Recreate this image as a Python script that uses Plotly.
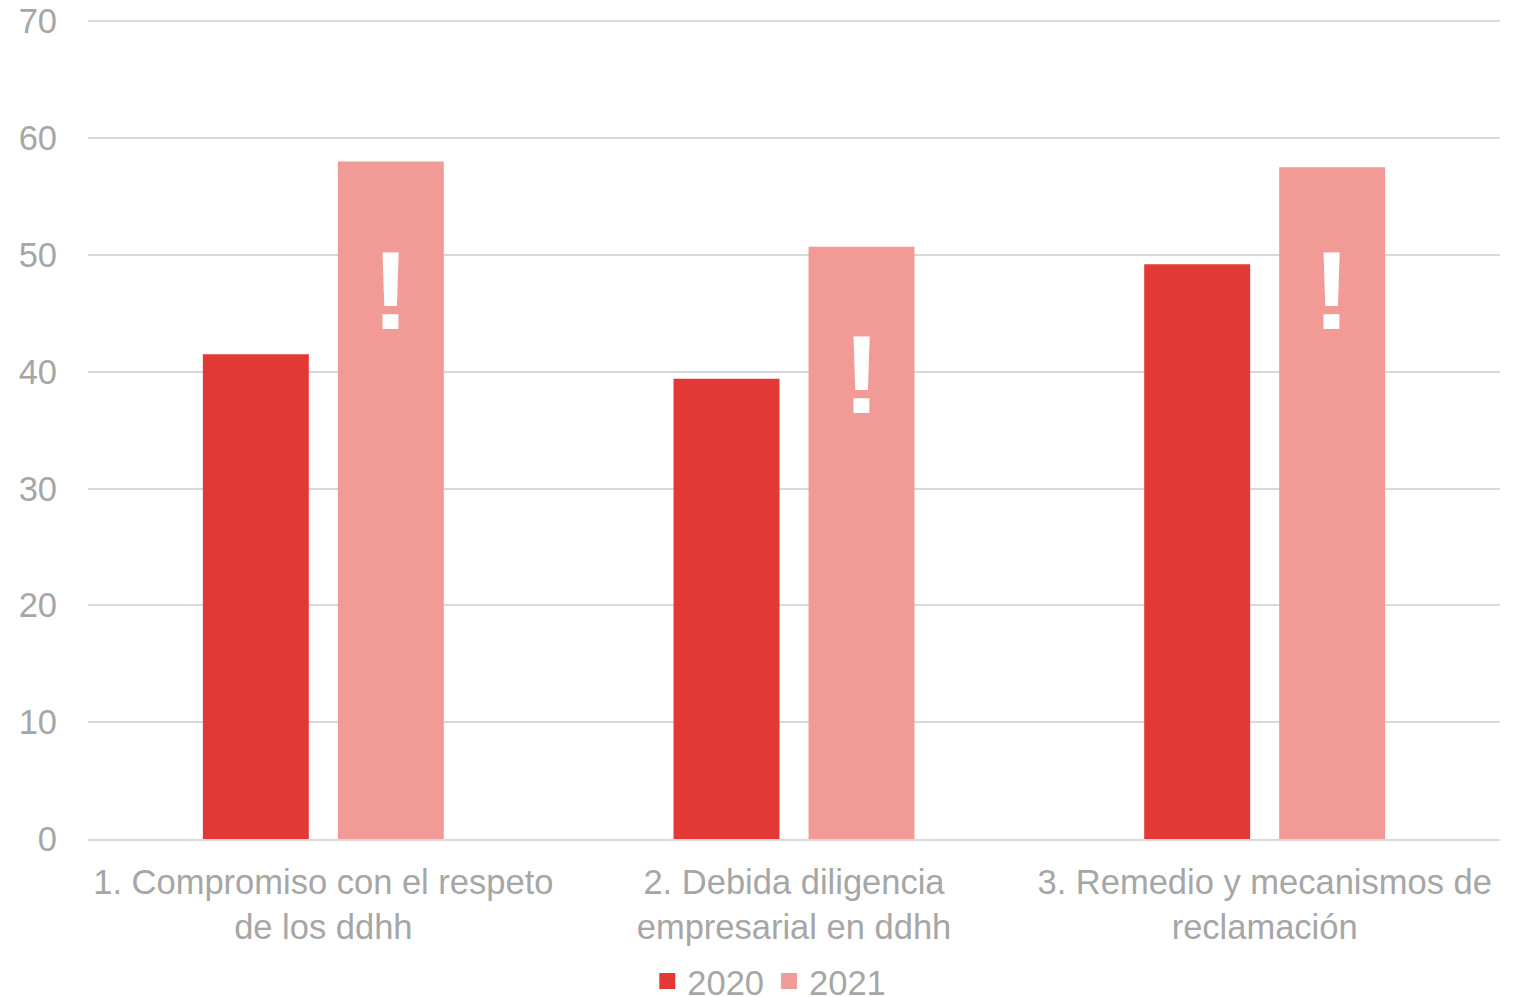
import plotly.graph_objects as go

categories = ["1. Compromiso con el respeto<br>de los ddhh",
              "2. Debida diligencia<br>empresarial en ddhh",
              "3. Remedio y mecanismos de<br>reclamación"]
values_2020 = [41.5, 39.4, 49.2]
values_2021 = [58.0, 50.7, 57.5]
series_names = ["2020", "2021"]
y_ticks = [0, 10, 20, 30, 40, 50, 60, 70]
# top of the white "!" mark inside each 2021 bar (value units)
mark_top = [50.2, 43.0, 50.2]

c2020 = "#e33936"
c2021 = "#f19a96"
grey = "#a6a6a6"
font_family = "Liberation Sans, Arial, sans-serif"
fs = 34.5

fig = go.Figure()
fig.add_trace(go.Bar(x=categories, y=values_2020, name=series_names[0], showlegend=False,
                     marker=dict(color=c2020, line=dict(width=0))))
fig.add_trace(go.Bar(x=categories, y=values_2021, name=series_names[1], showlegend=False,
                     marker=dict(color=c2021, line=dict(width=0))))
# legend entries (square swatches)
for name, col in zip(series_names, [c2020, c2021]):
    fig.add_trace(go.Scatter(x=[None], y=[None], mode="markers", name=name,
                             marker=dict(symbol="square", size=16, color=col)))

for cat, m in zip(categories, mark_top):
    fig.add_annotation(x=cat, y=m, xref="x", yref="y", text="<b>!</b>",
                       showarrow=False, xshift=67, yanchor="top", yshift=27,
                       font=dict(family="Liberation Sans Narrow, Arial Narrow, sans-serif",
                                 size=112, color="white"))

fig.update_layout(
    width=1513, height=989,
    margin=dict(l=80, r=21, t=11, b=158, autoexpand=False),
    paper_bgcolor="white", plot_bgcolor="white",
    barmode="group", bargap=0.4264, bargroupgap=0.215,
    font=dict(family=font_family, size=fs, color=grey),
    legend=dict(orientation="h", x=0.4825, xanchor="center", y=-0.138, yanchor="top",
                font=dict(size=fs, color=grey), itemwidth=30, tracegroupgap=0,
                itemsizing="trace"),
    showlegend=True,
)
fig.update_xaxes(showline=True, linecolor="#d9d9d9", linewidth=2, ticks="",
                 automargin=False, ticklabelstandoff=12,
                 tickfont=dict(size=fs, color=grey))
fig.update_yaxes(range=[0, 70.2], tickvals=y_ticks, showgrid=True, gridcolor="#d9d9d9",
                 gridwidth=2, zeroline=False, showline=False, ticks="", automargin=False,
                 ticklabelstandoff=30, ticklabeloverflow="allow",
                 tickfont=dict(size=fs, color=grey))

fig.write_html("out.html")
